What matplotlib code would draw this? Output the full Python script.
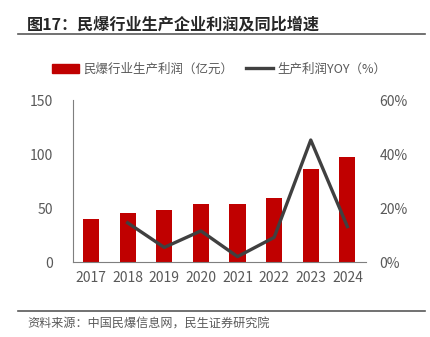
import matplotlib.pyplot as plt
from matplotlib.lines import Line2D

plt.rcParams['font.family'] = ['Noto Sans CJK SC', 'DejaVu Sans']

years = ['2017', '2018', '2019', '2020', '2021', '2022', '2023', '2024']
profit = [39.7, 45.6, 48.1, 53.6, 54.2, 59.4, 85.9, 97.0]  # 亿元
yoy_years = ['2018', '2019', '2020', '2021', '2022', '2023', '2024']
yoy = [14.6, 5.5, 11.6, 2.1, 9.2, 45.2, 13.2]  # %

red = '#C00000'
dark = '#404040'
gray = '#595959'

fig = plt.figure(figsize=(4.31, 3.37), dpi=100)
ax = fig.add_axes([72.7 / 431, 1 - 262.3 / 337, 293 / 431, 162.3 / 337])
x = list(range(len(years)))
ax.bar(x, profit, width=0.44, color=red, zorder=2)
ax.set_xlim(-0.5, len(years) - 0.5)
ax.set_ylim(0, 150)
ax.set_yticks([0, 50, 100, 150])
ax.set_xticks(x)
ax.set_xticklabels(years)
for s in ['top', 'right']:
    ax.spines[s].set_visible(False)
ax.spines['left'].set_color('#7f7f7f')
ax.spines['bottom'].set_color('#7f7f7f')
ax.tick_params(length=0, labelsize=10, colors=gray, pad=6)
ax.tick_params(axis='y', pad=14)

ax2 = ax.twinx()
xi = [years.index(y) for y in yoy_years]
ax2.plot(xi, yoy, color=dark, lw=2.4, zorder=3)
ax2.set_ylim(0, 60)
ax2.set_yticks([0, 20, 40, 60])
ax2.set_yticklabels(['0%', '20%', '40%', '60%'])
for s in ['top', 'right', 'left', 'bottom']:
    ax2.spines[s].set_visible(False)
ax2.tick_params(length=0, labelsize=10, colors=gray, pad=10)

# title and frame lines
fig.text(27 / 431, 1 - 24 / 337, '图17：民爆行业生产企业利润及同比增速', fontsize=11.6,
         fontweight='bold', color='#262626', va='center')
fig.add_artist(Line2D([18 / 431, 425 / 431], [1 - 33.5 / 337] * 2, color='#595959', lw=1.2))
fig.add_artist(Line2D([18 / 431, 425 / 431], [1 - 310.5 / 337] * 2, color='#595959', lw=1.2))
fig.text(27 / 431, 1 - 324 / 337, '资料来源：中国民爆信息网，民生证券研究院', fontsize=8.7,
         color=gray, va='center')

handles = [plt.Rectangle((0, 0), 1, 1, color=red), Line2D([0], [0], color=dark, lw=2.4)]
fig.legend(handles, ['民爆行业生产利润（亿元）', '生产利润YOY（%）'], ncol=2, frameon=False,
           loc='center', bbox_to_anchor=(219 / 431, 1 - 69 / 337), fontsize=9,
           handlelength=2.2, handletextpad=0.3, columnspacing=1.0,
           labelcolor=gray)

fig.savefig('out.png', dpi=100)
